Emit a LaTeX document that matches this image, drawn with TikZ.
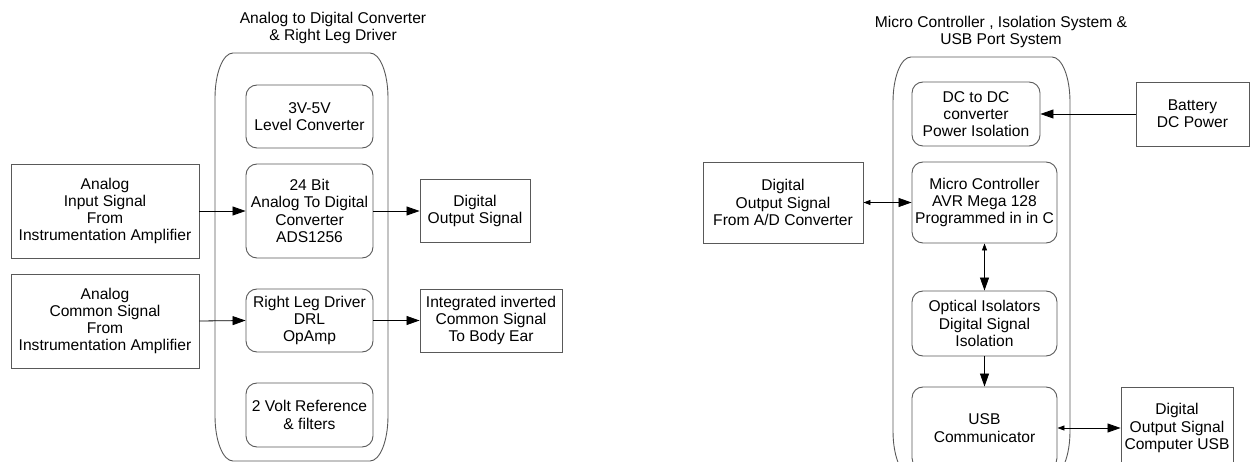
\documentclass[tikz,border=0pt]{standalone}
\usepackage{fontspec}
\setmainfont{Liberation Sans}
\usetikzlibrary{arrows.meta}
\begin{document}
\begin{tikzpicture}[x=1pt,y=-1pt,
  every node/.style={font=\fontsize{15.6}{17.3}\selectfont, align=center, inner sep=0pt},
  sqbox/.style={draw=black!65, line width=0.9pt},
  rdbox/.style={draw=black!65, line width=0.9pt, rounded corners=11pt},
  frame/.style={draw=black!65, line width=0.9pt},
  onedir/.style={draw=black, line width=0.8pt, arrows={-Triangle[length=13pt,width=9pt]}},
  bidir/.style={draw=black, line width=0.8pt, arrows={Triangle[length=7pt,width=5pt]-Triangle[length=13pt,width=9pt]}}
]
\useasboundingbox (0,0) rectangle (1256,462);
\clip (0,0) rectangle (1256,462);

% ---------- ADC and right leg driver section ----------
\node (tadc) at (333,28) {Analog to Digital Converter\\\& Right Leg Driver};
\draw[frame] (233,53) -- (370,53) .. controls (380,53) and (388,73) .. (388,98)
  -- (388,416) .. controls (388,441) and (380,461) .. (370,461)
  -- (233,461) .. controls (223,461) and (215,441) .. (215,416)
  -- (215,98) .. controls (215,73) and (223,53) .. (233,53) -- cycle;

\node[sqbox, minimum width=188pt, minimum height=94pt] (in1) at (105,211)
  {Analog\\Input Signal\\From\\Instrumentation Amplifier};
\node[sqbox, minimum width=188pt, minimum height=94pt] (in2) at (105,321)
  {Analog\\Common Signal\\From\\Instrumentation Amplifier};

\node[rdbox, minimum width=127pt, minimum height=63pt] (lvl) at (309.5,116.5)
  {3V-5V\\Level Converter};
\node[rdbox, minimum width=127pt, minimum height=94pt] (adc) at (309.5,211)
  {24 Bit\\Analog To Digital\\Converter\\ADS1256};
\node[rdbox, minimum width=127pt, minimum height=63pt] (rld) at (309.5,320.5)
  {Right Leg Driver\\DRL\\OpAmp};
\node[rdbox, minimum width=127pt, minimum height=64pt] (vref) at (309.5,415)
  {2 Volt Reference\\\& filters};

\node[sqbox, minimum width=110pt, minimum height=63pt] (dout) at (475,211)
  {Digital\\Output Signal};
\node[sqbox, minimum width=142pt, minimum height=63pt] (integ) at (491,320.5)
  {Integrated inverted\\Common Signal\\To Body Ear};

\draw[onedir] (in1.east) -- (adc.west);
\draw[onedir] (in2.east) -- (rld.west);
\draw[onedir] (adc.east) -- (dout.west);
\draw[onedir] (rld.east) -- (integ.west);

% ---------- micro controller, isolation and USB section ----------
\node (tmcu) at (1001,32) {Micro Controller , Isolation System \&\\USB Port System};
\draw[frame] (911,57) -- (1052,57) .. controls (1062,57) and (1070,77) .. (1070,102)
  -- (1070,431) .. controls (1070,456) and (1062,476) .. (1052,476)
  -- (911,476) .. controls (901,476) and (893,456) .. (893,431)
  -- (893,102) .. controls (893,77) and (901,57) .. (911,57) -- cycle;

\node[sqbox, minimum width=160pt, minimum height=81pt] (adin) at (783,202.5)
  {Digital\\Output Signal\\From A/D Converter};

\node[rdbox, minimum width=128pt, minimum height=64pt] (dcdc) at (976,114)
  {DC to DC\\converter\\Power Isolation};
\node[rdbox, minimum width=145pt, minimum height=81pt] (mcu) at (984.5,202.5)
  {Micro Controller\\AVR Mega 128\\Programmed in in C};
\node[rdbox, minimum width=145pt, minimum height=65pt] (opto) at (984.5,323.5)
  {Optical Isolators\\Digital Signal\\Isolation};
\node[rdbox, minimum width=145pt, minimum height=82pt] (usb) at (984.5,428)
  {USB\\Communicator};

\node[sqbox, minimum width=113pt, minimum height=64pt] (batt) at (1192.5,114)
  {Battery\\DC Power};
\node[sqbox, minimum width=112pt, minimum height=82pt] (pcusb) at (1177,428)
  {Digital\\Output Signal\\Computer USB};

\draw[bidir] (adin.east) -- (mcu.west);
\draw[onedir] (batt.west) -- (dcdc.east);
\draw[bidir] (mcu.south) -- (opto.north);
\draw[onedir] (opto.south) -- (usb.north);
\draw[bidir] (usb.east) -- (pcusb.west);
\end{tikzpicture}
\end{document}
